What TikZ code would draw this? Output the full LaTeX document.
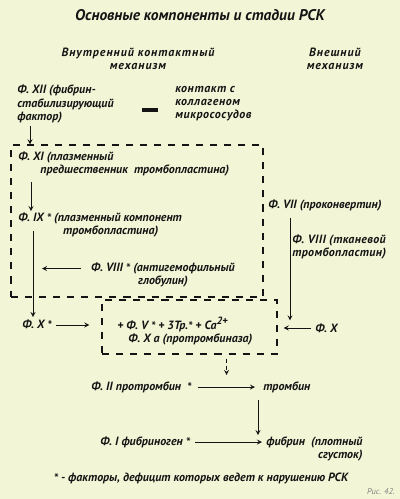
\documentclass[tikz,border=0pt]{standalone}
\usepackage{fontspec}
\setmainfont{PT Sans}
\usetikzlibrary{arrows, positioning, fit}
\definecolor{paper}{RGB}{242,246,214}
\definecolor{ink}{RGB}{20,20,20}
\newcommand\zv{\raisebox{-0.8pt}{*}}
\newcommand\caion{Ca\raisebox{4pt}{\fontsize{7.5}{8}\selectfont 2+}}
\tikzset{
  lbl/.style={inner sep=0pt, align=left, anchor=west, text=ink,
    font=\fontsize{8.5}{9.3}\selectfont\bfseries\itshape},
  head/.style={lbl, anchor=center, align=center},
  spaced/.style={font=\fontsize{8.5}{9.3}\selectfont\bfseries\itshape\addfontfeatures{LetterSpace=#1}},
  dashbox/.style={draw=ink, line width=0.9pt, dash pattern=on 5pt off 5pt,
    inner sep=0pt},
  arr/.style={->, >=stealth, draw=ink, line width=0.6pt}
}

\begin{document}
\begin{tikzpicture}[x=0.025cm, y=-0.025cm]
\fill[paper] (0,0) rectangle (400,499);

% заголовки
\node (title) [head, font=\fontsize{11}{13}\selectfont\bfseries\itshape] at (200,15)
      {Основные компоненты и стадии РСК};
\node (inner) [head, spaced=8] at (138,59) {Внутренний контактный\\механизм};
\node (outer) [head, spaced=8] at (335,59) {Внешний\\механизм};

% внутренний механизм
\node (f12)     [lbl] at (17,104) {Ф. XII (фибрин-\\стабилизирующий\\фактор)};
\node (dash)    [fill=ink, minimum width=0.4cm, minimum height=0.08cm, inner sep=0pt]
      at (150,110) {};
\node (contact) [lbl, spaced=5] at (175,104) {контакт с\\коллагеном\\микрососудов};

\node (box1) [dashbox, fit={(11,145) (263,297)}] {};
\node (f11) [lbl] at (18,164)
      {Ф. XI (плазменный\\\hspace*{0.55cm}предшественник~ тромбопластина)};
\node (f9)  [lbl] at (18,225)
      {Ф. IX \zv{} (плазменный компонент\\\hspace*{1.12cm}тромбопластина)};
\node (f8)  [head] at (163,275) {Ф. VIII \zv{} (антигемофильный\\глобулин)};
\coordinate (f8tip) at (42,268);

% внешний механизм
\node (f7)  [lbl] at (268,206) {Ф. VII (проконвертин)};
\node (f8t) [lbl, spaced=3] at (292,247) {Ф. VIII (тканевой\\тромбопластин)};

% протромбиназа
\node (box2) [dashbox, fit={(102,300) (277,354)}] {};
\node (xa)   [lbl] at (117,331)
      {+ Ф. V \zv{} + 3Тр.\zv{} + \caion\\\hspace*{0.28cm}Ф. X a (протромбиназа)};
\node (f10)  [lbl] at (22,325) {Ф. X \zv};
\node (f10r) [lbl] at (315,328) {Ф. X};

% тромбин и фибрин
\node (f2)  [lbl] at (91,387) {Ф. II протромбин~ \zv};
\node (thr) [lbl] at (263,387) {тромбин};
\node (f1)  [lbl] at (100,442) {Ф. I фибриноген \zv};
\node (fib) [lbl, align=right] at (266,449) {фибрин~ (плотный\\сгусток)};

\node (note) [head] at (201,478) {\zv{} - факторы, дефицит которых ведет к нарушению РСК};
\node (fig)  [anchor=east, inner sep=0pt, text=gray, font=\fontsize{6}{7}\selectfont\itshape]
      at (395,492) {Рис. 42.};

\draw[arr] (f12.south west) ++(13,3) coordinate (a1) -- (a1 |- box1.north);
\draw[arr, shorten >=1pt] (f11.south west) ++(13,6) coordinate (a2) -- (a2 |- f9.north);
\draw[arr, shorten >=2pt] (f9.west) ++(15,6) coordinate (a3) -- (a3 |- f10.north);
\draw[arr] (f8.north west) ++(-10,6) coordinate (a4) -- (a4 -| f8tip);
\draw[arr, shorten >=2pt] (f7.south west) ++(22,6) coordinate (a5) -- (a5 |- f10r.north);
\draw[arr, shorten <=3pt, shorten >=0.3cm] (f10) -- (f10 -| box2.west);
\draw[arr, shorten <=3pt, shorten >=0.15cm] (f10r) -- (f10r -| box2.east);
\draw[arr, densely dashed, shorten >=0.3cm] (box2.south) ++(37,4) coordinate (a6) -- (a6 |- f2);
\draw[arr, shorten <=0.15cm, shorten >=0.2cm] (f2) -- (thr);
\draw[arr, shorten >=1pt] (thr.south west) ++(-5,7) coordinate (a7) -- (a7 |- fib.north);
\draw[arr, shorten <=0.12cm, shorten >=0.1cm] (f1) -- (f1 -| fib.west);
\end{tikzpicture}
\end{document}
